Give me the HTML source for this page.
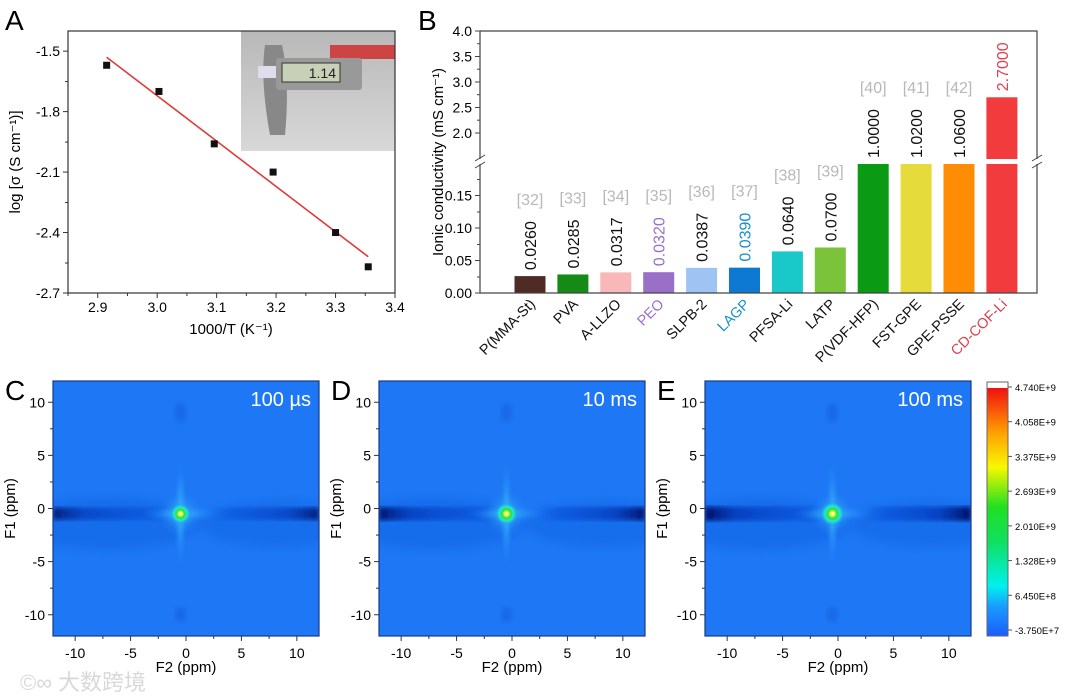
<!DOCTYPE html>
<html><head><meta charset="utf-8">
<style>
html,body{margin:0;padding:0;background:#fff;}
svg{display:block;font-family:"Liberation Sans","Noto Sans CJK SC",sans-serif;}
</style></head>
<body>
<svg id="fig" width="1080" height="696" viewBox="0 0 1080 696" xmlns="http://www.w3.org/2000/svg">
<defs>
  <radialGradient id="peak" cx="50%" cy="50%" r="50%">
    <stop offset="0" stop-color="#ffffff"/>
    <stop offset="0.15" stop-color="#f5ff40"/>
    <stop offset="0.35" stop-color="#30e040"/>
    <stop offset="0.6" stop-color="#20e8d0"/>
    <stop offset="1" stop-color="#1e78f5" stop-opacity="0"/>
  </radialGradient>
  <radialGradient id="halo" cx="50%" cy="50%" r="50%">
    <stop offset="0" stop-color="#3fd0ff" stop-opacity="0.85"/>
    <stop offset="1" stop-color="#1e78f5" stop-opacity="0"/>
  </radialGradient>
  <linearGradient id="streak" x1="0" y1="0" x2="1" y2="0">
    <stop offset="0" stop-color="#000a60" stop-opacity="0.95"/>
    <stop offset="0.12" stop-color="#0030b0" stop-opacity="0.7"/>
    <stop offset="0.38" stop-color="#0040d0" stop-opacity="0.45"/>
    <stop offset="0.47" stop-color="#0040d0" stop-opacity="0"/>
    <stop offset="0.6" stop-color="#0040d0" stop-opacity="0"/>
    <stop offset="0.68" stop-color="#0040d0" stop-opacity="0.45"/>
    <stop offset="0.88" stop-color="#0030b0" stop-opacity="0.7"/>
    <stop offset="1" stop-color="#000a60" stop-opacity="0.95"/>
  </linearGradient>
  <linearGradient id="cbar" x1="0" y1="1" x2="0" y2="0">
    <stop offset="0" stop-color="#1a5cff"/>
    <stop offset="0.12" stop-color="#1a9cff"/>
    <stop offset="0.2" stop-color="#00f0f0"/>
    <stop offset="0.38" stop-color="#10e060"/>
    <stop offset="0.52" stop-color="#20e020"/>
    <stop offset="0.68" stop-color="#f8f800"/>
    <stop offset="0.82" stop-color="#ffa000"/>
    <stop offset="1" stop-color="#f01010"/>
  </linearGradient>
  <filter id="blur2"><feGaussianBlur stdDeviation="2"/></filter>
  <filter id="blur4"><feGaussianBlur stdDeviation="4"/></filter>
  <linearGradient id="photo" x1="0" y1="0" x2="0" y2="1">
    <stop offset="0" stop-color="#b8b8b8"/><stop offset="1" stop-color="#d8d8d8"/>
  </linearGradient>
</defs>
<g id="panelA"></g>
<g id="panelB"></g>
<g id="panelNMR"></g>
<text x="20" y="690" font-size="22" fill="#d8d8d8">©∞ 大数跨境</text>
</svg>
<script>
// ===== Panel A data =====
const aInvT = [2.915, 3.003, 3.096, 3.195, 3.300, 3.355];
const aLogSigma = [-1.57, -1.70, -1.96, -2.10, -2.40, -2.57];
const aFitX = [2.915, 3.355];
const aFitY = [-1.53, -2.52];
const aXTicks = [2.9, 3.0, 3.1, 3.2, 3.3, 3.4];
const aYTicks = [-1.5, -1.8, -2.1, -2.4, -2.7];

// ===== Panel B data =====
const bCats = ["P(MMA-St)","PVA","A-LLZO","PEO","SLPB-2","LAGP","PFSA-Li","LATP","P(VDF-HFP)","FST-GPE","GPE-PSSE","CD-COF-Li"];
const bValues = [0.0260,0.0285,0.0317,0.0320,0.0387,0.0390,0.0640,0.0700,1.0000,1.0200,1.0600,2.7000];
const bLabels = ["0.0260","0.0285","0.0317","0.0320","0.0387","0.0390","0.0640","0.0700","1.0000","1.0200","1.0600","2.7000"];
const bRefs = ["[32]","[33]","[34]","[35]","[36]","[37]","[38]","[39]","[40]","[41]","[42]",""];
const bLowTicks = [0.00,0.05,0.10,0.15];
const bHighTicks = [2.0,2.5,3.0,3.5,4.0];

// ===== Colorbar / NMR data =====
const cbTicks = ["4.740E+9","4.058E+9","3.375E+9","2.693E+9","2.010E+9","1.328E+9","6.450E+8","-3.750E+7"];
const nmrTitles = ["100 µs","10 ms","100 ms"];
const nmrLetters = ["C","D","E"];
const nmrPeakF2 = [-0.5,-0.5,-0.5];
const nmrPeakF1 = [-0.5,-0.5,-0.5];
const nmrPeakIntensity = [0.55,0.8,1.0];
const nmrTicks = [-10,-5,0,5,10];

const NS="http://www.w3.org/2000/svg";
function el(tag, attrs, parent, text){
  const e=document.createElementNS(NS,tag);
  for(const k in attrs) e.setAttribute(k, attrs[k]);
  if(text!==undefined) e.textContent=text;
  parent.appendChild(e); return e;
}

// ---------- Panel A ----------
(function(){
  const g=document.getElementById('panelA');
  const L=68,R=395,T=31,B=293;
  const xs=v=>L+(v-2.85)/(3.4-2.85)*(R-L);
  const ys=v=>T+(-1.4-v)/(-1.4+2.7)*(B-T);
  let t=el('text',{x:5,y:30,'font-size':28},g,'A');
   
  const ph=el('g',{},g);
   
  el('rect',{x:241,y:31,width:154,height:120,fill:'url(#photo)'},ph);
  el('rect',{x:330,y:45,width:65,height:14,fill:'#c44'},ph);
  el('path',{d:'M265 45 Q260 80 270 135 L285 135 Q290 80 282 45 Z',fill:'#888'},ph);
  el('rect',{x:276,y:58,width:86,height:32,rx:3,fill:'#999'},ph);
  el('rect',{x:282,y:63,width:58,height:19,fill:'#c8d0b8',stroke:'#333'},ph);
  el('text',{x:336,y:78,'font-size':14,'text-anchor':'end',fill:'#222'},ph,'1.14');
  el('rect',{x:258,y:66,width:18,height:12,fill:'#dde'},ph);
  el('rect',{x:L,y:T,width:R-L,height:B-T,fill:'none',stroke:'#333','stroke-width':1.2},g);
  aXTicks.forEach(v=>{
    const x=xs(v);
    el('line',{x1:x,y1:B,x2:x,y2:B+5,stroke:'#333'},g);
    const tl=el('text',{x:x,y:B+19,'font-size':14,'text-anchor':'middle'},g,v.toFixed(1));
     
  });
  for(let v=2.85; v<3.4; v+=0.1){el('line',{x1:xs(v),y1:B,x2:xs(v),y2:B+3,stroke:'#333'},g);}
  aYTicks.forEach(v=>{
    const y=ys(v);
    el('line',{x1:L-5,y1:y,x2:L,y2:y,stroke:'#333'},g);
    const tl=el('text',{x:L-8,y:y+5,'font-size':14,'text-anchor':'end'},g,v.toFixed(1));
     
    if(y-30>T) el('line',{x1:L-3,y1:y-30,x2:L,y2:y-30,stroke:'#333'},g);
  });
  const fit=el('line',{x1:xs(aFitX[0]),y1:ys(aFitY[0]),x2:xs(aFitX[1]),y2:ys(aFitY[1]),stroke:'#e03a3a','stroke-width':1.6},g);
   
  aInvT.forEach((v,i)=>{
    const p=el('rect',{x:xs(v)-3.5,y:ys(aLogSigma[i])-3.5,width:7,height:7,fill:'#111'},g);
     
  });
  t=el('text',{x:231,y:334,'font-size':15,'text-anchor':'middle'},g,'1000/T (K⁻¹)');
   
  t=el('text',{x:0,y:0,'font-size':15,'text-anchor':'middle',transform:'translate(20,162) rotate(-90)'},g,'log [σ (S cm⁻¹)]');
   
})();

// ---------- Panel B ----------
(function(){
  const g=document.getElementById('panelB');
  const L=480,R=1037,T=31,B=293,BRK_LO=164,BRK_HI=159;
  const yLow=v=>B-v/0.05*32.5;
  const yHigh=v=>133-(v-2.0)/0.5*25.5;
  const yVal=v=>v<=0.198?yLow(v):(v<1.47?BRK_LO:yHigh(v));
  const colors=['#4e2c25','#158a16','#f9b7b9','#9a6fc7','#9fc4f4','#0e79d2','#19c8c8','#7ac33b','#0b9a14','#e5dc3b','#ff8c05','#f23b3c'];
  const catColor={3:'#9a6fc7',5:'#1890c8',11:'#e04050'};
  const c0=530, step=42.9, bw=31;
  let t=el('text',{x:418,y:30,'font-size':28},g,'B');
   
  bValues.forEach((v,i)=>{
    const cx=c0+i*step, top=yVal(v);
    const bar=el('rect',{x:cx-bw/2,y:top,width:bw,height:B-top,fill:colors[i]},g);
    
    
    const vl=el('text',{x:0,y:0,'font-size':16,fill:catColor[i]||'#111',transform:`translate(${cx+6},${top-6}) rotate(-90)`},g,bLabels[i]);
     
    if(bRefs[i]){
      const rl=el('text',{x:cx,y:top-71,'font-size':16,'text-anchor':'middle',fill:'#b8b8b8'},g,bRefs[i]);
       
    }
    const cl=el('text',{x:0,y:0,'font-size':14.5,'text-anchor':'end',fill:catColor[i]||'#111',transform:`translate(${cx+6},${B+12}) rotate(-45)`},g,bCats[i]);
     
  });
  el('rect',{x:L-6,y:BRK_HI,width:R-L+12,height:BRK_LO-BRK_HI,fill:'#fff'},g);
  el('path',{d:`M${L} ${T} L${R} ${T} L${R} ${BRK_HI} M${R} ${BRK_LO} L${R} ${B} L${L} ${B} L${L} ${BRK_LO} M${L} ${BRK_HI} L${L} ${T}`,fill:'none',stroke:'#444','stroke-width':1.2},g);
  [L,R].forEach(x=>{
    el('line',{x1:x-5,y1:BRK_HI+2,x2:x+5,y2:BRK_HI-4,stroke:'#444'},g);
    el('line',{x1:x-5,y1:BRK_LO+4,x2:x+5,y2:BRK_LO-2,stroke:'#444'},g);
  });
  bLowTicks.forEach(v=>{
    const y=yLow(v);
    el('line',{x1:L-5,y1:y,x2:L,y2:y,stroke:'#444'},g);
    el('line',{x1:L-3,y1:y-16,x2:L,y2:y-16,stroke:'#444'},g);
    const tl=el('text',{x:L-8,y:y+5,'font-size':14,'text-anchor':'end'},g,v.toFixed(2));
     
  });
  bHighTicks.forEach(v=>{
    const y=yHigh(v);
    el('line',{x1:L-5,y1:y,x2:L,y2:y,stroke:'#444'},g);
    if(v>2.0) el('line',{x1:L-3,y1:y+12.7,x2:L,y2:y+12.7,stroke:'#444'},g);
    const tl=el('text',{x:L-8,y:y+5,'font-size':14,'text-anchor':'end'},g,v.toFixed(1));
     
  });
  t=el('text',{x:0,y:0,'font-size':15,'text-anchor':'middle',transform:'translate(443,162) rotate(-90)'},g,'Ionic conductivity (mS cm⁻¹)');
   
})();

// ---------- NMR panels ----------
(function(){
  const g=document.getElementById('panelNMR');
  const lefts=[53,379,705], W=266, T=381, H=255;
  lefts.forEach((L,k)=>{
    const p=el('g',{},g);
     
    const xs=v=>L+(v+12)/24*W, ys=v=>T+(12-v)/24*H;
    const lt=el('text',{x:lefts[k]-48,y:400,'font-size':28},p,nmrLetters[k]);
     
    const cid='clip'+k;
    const cp=el('clipPath',{id:cid},p); el('rect',{x:L,y:T,width:W,height:H},cp);
    const m=el('g',{'clip-path':`url(#${cid})`},p);
    el('rect',{x:L,y:T,width:W,height:H,fill:'#1e78f5'},m);
    const px=xs(nmrPeakF2[k]), py=ys(nmrPeakF1[k]), s=nmrPeakIntensity[k];
    el('ellipse',{cx:L+W*0.2,cy:py+10,rx:W*0.35,ry:26,fill:'#1060e0',opacity:0.45,filter:'url(#blur4)'},m);
    el('ellipse',{cx:L+W*0.85,cy:py+10,rx:W*0.3,ry:24,fill:'#1060e0',opacity:0.4,filter:'url(#blur4)'},m);
    const st=el('rect',{x:L,y:py-5-s*2,width:W,height:10+s*4,fill:'url(#streak)',opacity:0.6+0.4*s,filter:'url(#blur2)'},m);
     
    el('ellipse',{cx:px,cy:ys(9),rx:6,ry:10,fill:'#1560e0',opacity:0.6,filter:'url(#blur2)'},m);
    el('ellipse',{cx:px,cy:ys(-10),rx:6,ry:8,fill:'#1560e0',opacity:0.6,filter:'url(#blur2)'},m);
    el('ellipse',{cx:px,cy:py,rx:7,ry:55,fill:'url(#halo)'},m);
    el('ellipse',{cx:px,cy:py,rx:40,ry:9,fill:'url(#halo)'},m);
    el('ellipse',{cx:px,cy:py,rx:22,ry:24,fill:'url(#halo)'},m);
    const pk=el('circle',{cx:px,cy:py,r:9+4*s,fill:'url(#peak)'},m);
     
    el('rect',{x:L,y:T,width:W,height:H,fill:'none',stroke:'#1a3a80','stroke-width':1.2},p);
    const tt=el('text',{x:L+W-8,y:T+25,'font-size':20,'text-anchor':'end',fill:'#fff'},p,nmrTitles[k]);
     
    nmrTicks.forEach(v=>{
      el('line',{x1:xs(v),y1:T+H,x2:xs(v),y2:T+H+5,stroke:'#333'},p);
      if(v<10) el('line',{x1:xs(v+2.5),y1:T+H,x2:xs(v+2.5),y2:T+H+3,stroke:'#333'},p);
      const xl=el('text',{x:xs(v),y:T+H+22,'font-size':14,'text-anchor':'middle'},p,String(v));
       
      el('line',{x1:L-5,y1:ys(v),x2:L,y2:ys(v),stroke:'#333'},p);
      if(v<10) el('line',{x1:L-3,y1:ys(v+2.5),x2:L,y2:ys(v+2.5),stroke:'#333'},p);
      const yl=el('text',{x:L-8,y:ys(v)+5,'font-size':14,'text-anchor':'end'},p,String(v));
       
    });
    const xt=el('text',{x:L+W/2,y:672,'font-size':15,'text-anchor':'middle'},p,'F2 (ppm)');
     
    const yt=el('text',{x:0,y:0,'font-size':15,'text-anchor':'middle',transform:`translate(${L-38},${T+H/2}) rotate(-90)`},p,'F1 (ppm)');
     
  });
  const cb=el('g',{},g);
   
  el('rect',{x:987,y:388,width:21,height:248,fill:'url(#cbar)'},cb);
  el('rect',{x:987,y:382,width:21,height:6,fill:'#fff'},cb);
  el('rect',{x:987,y:382,width:21,height:254,fill:'none',stroke:'#666'},cb);
  cbTicks.forEach((s,i)=>{
    const y=387+i*(630-387)/(cbTicks.length-1);
    el('line',{x1:1008,y1:y,x2:1012,y2:y,stroke:'#555'},cb);
    const tl=el('text',{x:1015,y:y+4,'font-size':9.5},cb,s);
     
  });
})();
</script>
</body></html>
